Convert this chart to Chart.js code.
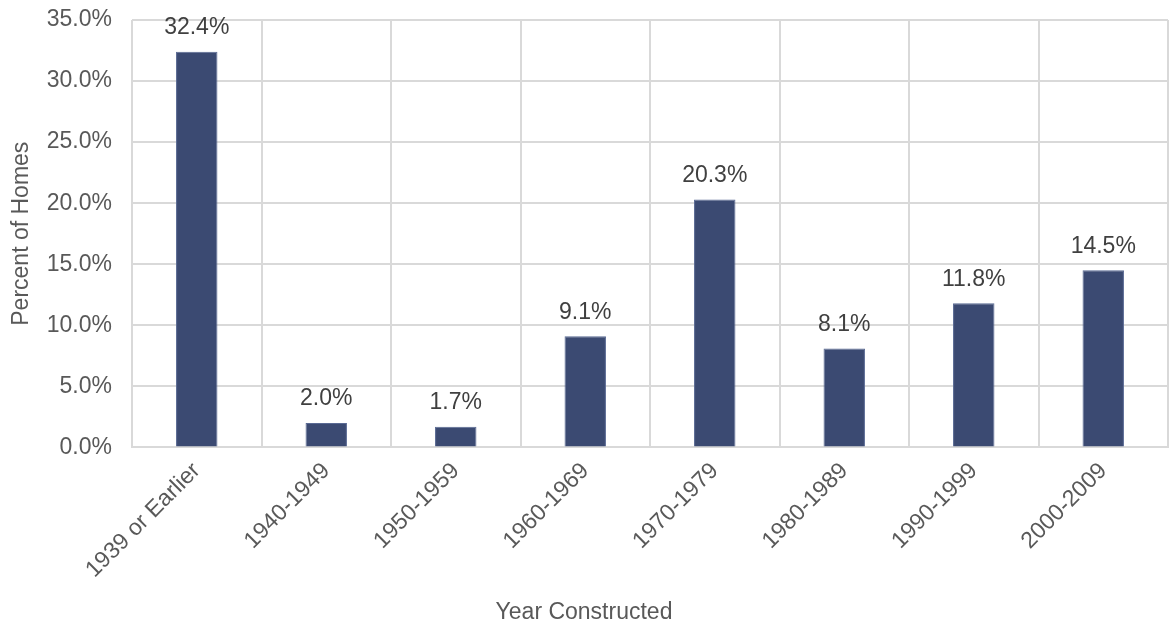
<!DOCTYPE html>
<html>
<head>
<meta charset="utf-8">
<script src="https://cdn.jsdelivr.net/npm/chart.js@4"></script>
<style>
  html,body{margin:0;padding:0;background:#fff;}
  #wrap{width:1171px;height:626px;}
</style>
</head>
<body>
<div id="wrap"><canvas id="c" width="1171" height="626"></canvas></div>
<script>
const categories = ['1939 or Earlier','1940-1949','1950-1959','1960-1969','1970-1979','1980-1989','1990-1999','2000-2009'];
const percentHomes = [32.4, 2.0, 1.7, 9.1, 20.3, 8.1, 11.8, 14.5];
const yTicks = [0, 5, 10, 15, 20, 25, 30, 35];

const FONT = '"Liberation Sans", Arial, sans-serif';
const FS = 23;

// draws the value above each bar, like the spreadsheet's data labels
const barLabels = {
  id: 'barLabels',
  afterDatasetsDraw(chart){
    const ctx = chart.ctx;
    const meta = chart.getDatasetMeta(0);
    ctx.save();
    ctx.font = FS + 'px ' + FONT;
    ctx.fillStyle = '#404040';
    ctx.textAlign = 'center';
    ctx.textBaseline = 'middle';
    meta.data.forEach((bar, i)=>{
      ctx.fillText(percentHomes[i].toFixed(1) + '%', bar.x, bar.y - 24);
    });
    ctx.restore();
  }
};

new Chart(document.getElementById('c'), {
  type: 'bar',
  data: {
    labels: categories,
    datasets: [{
      data: percentHomes,
      backgroundColor: '#3B4A72',
      borderColor: '#5a6a94',
      borderWidth: 1,
      barPercentage: 0.32,
      categoryPercentage: 1
    }]
  },
  plugins: [barLabels],
  options: {
    responsive: false,
    animation: false,
    layout: { padding: { top: 20, right: 3, left: 0, bottom: 0 } },
    plugins: {
      legend: { display: false }, tooltip: { enabled: false },
      title: { display: true, position: 'bottom', text: 'Year Constructed', color: '#595959', font: { family: FONT, size: FS, weight: 'normal' }, padding: { top: 10, bottom: 0 } }
    },
    scales: {
      x: {
        offset: true,
        grid: { color: '#d9d9d9', lineWidth: 2, offset: true, drawTicks: false },
        border: { color: '#d9d9d9', width: 2 },
        ticks: { color: '#595959', font: { family: FONT, size: FS }, minRotation: 45, maxRotation: 45, padding: 10 },
        afterFit(s){ s.height = 141; s.paddingLeft = 0; s.paddingRight = 0; }
      },
      y: {
        min: 0, max: 35,
        afterBuildTicks(s){ s.ticks = yTicks.map(v=>({value:v})); },
        grid: { color: '#d9d9d9', lineWidth: 2, drawTicks: false },
        border: { display: false },
        ticks: { color: '#595959', font: { family: FONT, size: FS }, padding: 20, callback: v => v.toFixed(1) + '%' },
        title: { display: true, text: 'Percent of Homes', color: '#595959', font: { family: FONT, size: FS }, padding: { top: 8, bottom: 4 } },
        afterFit(s){ s.width = 132; s.paddingTop = 0; s.paddingBottom = 0; }
      }
    }
  }
});
</script>
</body>
</html>
